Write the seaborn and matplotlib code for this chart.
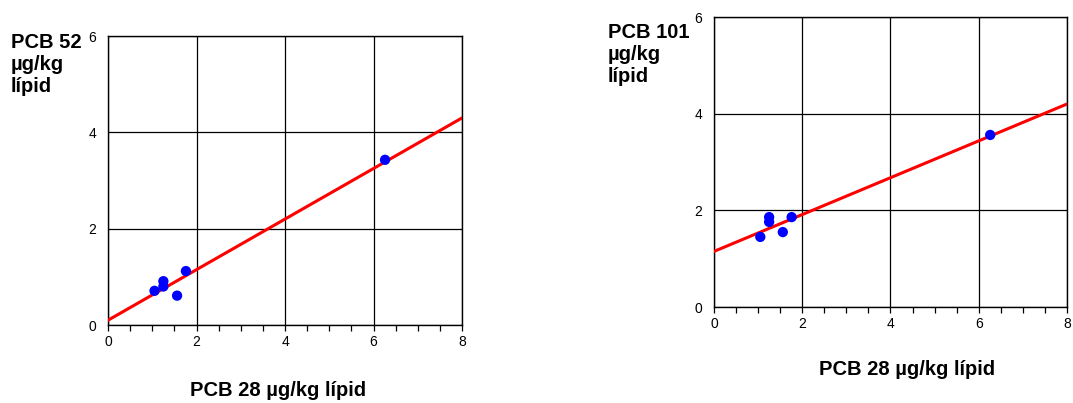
import matplotlib
matplotlib.use("Agg")
import matplotlib.pyplot as plt
import seaborn as sns
from matplotlib.ticker import MultipleLocator

# PCB 28 (x) against PCB 52 / PCB 101 (y), ug/kg lipid
pcb28 = [1.05, 1.25, 1.25, 1.56, 1.76, 6.26]
pcb52 = [0.71, 0.91, 0.80, 0.61, 1.12, 3.43]
pcb101 = [1.45, 1.86, 1.76, 1.55, 1.86, 3.56]

# regression lines, read at both ends of the x range
fit_x = [0, 8]
fit_52 = [0.10, 4.30]
fit_101 = [1.15, 4.20]

ticks = [0, 2, 4, 6, 8]
y_ticks = [0, 2, 4, 6]

sns.set_style("white")
plt.rcParams['font.family'] = ['Liberation Sans', 'DejaVu Sans']
plt.rcParams['text.color'] = 'black'
plt.rcParams['xtick.color'] = 'black'
plt.rcParams['ytick.color'] = 'black'

fig = plt.figure(figsize=(10.73, 4.03), dpi=100)
ax1 = fig.add_axes([0.1007, 0.1935, 0.3299, 0.7171])
ax2 = fig.add_axes([0.6654, 0.2382, 0.3290, 0.7196])


def draw(ax, y, fit_y):
    sns.lineplot(x=fit_x, y=fit_y, ax=ax, color="#ff0000", linewidth=2.2, zorder=3)
    sns.scatterplot(x=pcb28, y=y, ax=ax, color="#0000ff", s=55, edgecolor="none", zorder=4)
    ax.set_xlim(0, 8)
    ax.set_ylim(0, 6)
    ax.set_xticks(ticks)
    ax.set_yticks(y_ticks)
    ax.xaxis.set_minor_locator(MultipleLocator(0.5))
    ax.grid(True, color="black", linewidth=0.9)
    ax.tick_params(axis="x", which="both", direction="out", bottom=True, length=4,
                   width=0.9, color="black", labelsize=10, pad=3)
    ax.tick_params(axis="y", which="both", left=False, labelsize=10, pad=5)
    for s in ax.spines.values():
        s.set_color("black")
        s.set_linewidth(1.0)
    ax.set_xlabel("")
    ax.set_ylabel("")


draw(ax1, pcb52, fit_52)
draw(ax2, pcb101, fit_101)

# y-axis titles, one line at a time
title_kw = dict(fontsize=14.5, fontweight="bold", ha="left", va="baseline")
for text, yy in zip(["PCB 52", "µg/kg", "lípid"], [0.8821, 0.8263, 0.7705]):
    fig.text(0.0103, yy, text, **title_kw)
for text, yy in zip(["PCB 101", "µg/kg", "lípid"], [0.9057, 0.8511, 0.7965]):
    fig.text(0.5666, yy, text, **title_kw)

fig.text(0.2591, 0.0174, "PCB 28 µg/kg lípid", fontsize=14.5, fontweight="bold",
         ha="center", va="baseline")
fig.text(0.8453, 0.0695, "PCB 28 µg/kg lípid", fontsize=14.5, fontweight="bold",
         ha="center", va="baseline")

fig.savefig("out.png", dpi=100)
